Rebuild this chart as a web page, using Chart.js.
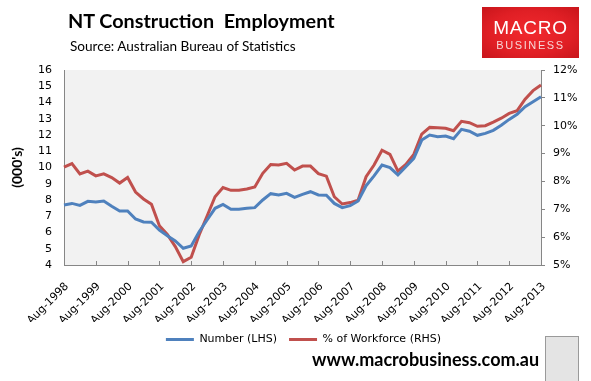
<!DOCTYPE html>
<html>
<head>
<meta charset="utf-8">
<script src="https://cdn.jsdelivr.net/npm/chart.js@4.4.1/dist/chart.umd.min.js"></script>
<style>
  html, body { margin: 0; padding: 0; background: #fff; }
  #cadre { position: relative; width: 591px; height: 381px; overflow: hidden; }
  #graphique { position: absolute; left: 0; top: 0; }
  .texte { position: absolute; white-space: pre; color: #000; }
  #titre { left: 68px; top: 10.6px; font: bold 19.8px Lato; line-height: 19.8px; }
  #source { left: 70px; top: 39px; font: 13.6px Lato; line-height: 14px; }
  #site { left: 312px; top: 350px; font: bold 18px Lato; line-height: 18px; }
  #logo { position: absolute; left: 482px; top: 7px; width: 97px; height: 51px;
    background: radial-gradient(ellipse at center, #f2292e 0%, #e01f25 60%, #c8151b 100%); }
  #logo .l1 { position: absolute; left: 0; width: 97px; top: 11px; text-align: center;
    font: 19px "Liberation Sans"; line-height: 19px; color: #fff; letter-spacing: 0.8px; }
  #logo .l2 { position: absolute; left: 0; width: 97px; top: 32px; text-align: center;
    font: 11px "Liberation Sans"; line-height: 12px; color: #f7d6d6; letter-spacing: 1.6px; }
  #renard { position: absolute; left: 545px; top: 336px; width: 32px; height: 44px;
    border: 1px solid #9a9a9a; background: #e4e4e4; }
</style>
</head>
<body>
<div id="cadre">
  <canvas id="graphique" width="591" height="381"></canvas>
  <div id="titre" class="texte">NT Construction  Employment</div>
  <div id="source" class="texte">Source: Australian Bureau of Statistics</div>
  <div id="logo"><div class="l1">MACRO</div><div class="l2">BUSINESS</div></div>
  <div id="site" class="texte">www.macrobusiness.com.au</div>
  <div id="renard"></div>
</div>
<script>
// Trimestres (Aug, Nov, Feb, May) de Aug-1998 à Aug-2013
const etiquettes = [
  'Aug-1998', 'Nov-1998', 'Feb-1999', 'May-1999', 'Aug-1999', 'Nov-1999', 'Feb-2000', 'May-2000',
  'Aug-2000', 'Nov-2000', 'Feb-2001', 'May-2001', 'Aug-2001', 'Nov-2001', 'Feb-2002', 'May-2002',
  'Aug-2002', 'Nov-2002', 'Feb-2003', 'May-2003', 'Aug-2003', 'Nov-2003', 'Feb-2004', 'May-2004',
  'Aug-2004', 'Nov-2004', 'Feb-2005', 'May-2005', 'Aug-2005', 'Nov-2005', 'Feb-2006', 'May-2006',
  'Aug-2006', 'Nov-2006', 'Feb-2007', 'May-2007', 'Aug-2007', 'Nov-2007', 'Feb-2008', 'May-2008',
  'Aug-2008', 'Nov-2008', 'Feb-2009', 'May-2009', 'Aug-2009', 'Nov-2009', 'Feb-2010', 'May-2010',
  'Aug-2010', 'Nov-2010', 'Feb-2011', 'May-2011', 'Aug-2011', 'Nov-2011', 'Feb-2012', 'May-2012',
  'Aug-2012', 'Nov-2012', 'Feb-2013', 'May-2013', 'Aug-2013'
];

// Nombre d'emplois (milliers) - axe gauche
const nombre = [
  7.69, 7.79, 7.67, 7.92, 7.88, 7.94, 7.61, 7.32, 7.32, 6.83, 6.65, 6.63,
  6.15, 5.80, 5.48, 5.03, 5.17, 6.05, 6.77, 7.49, 7.73, 7.43, 7.43, 7.49,
  7.53, 8.00, 8.39, 8.31, 8.41, 8.16, 8.35, 8.51, 8.31, 8.29, 7.79, 7.53,
  7.65, 7.94, 8.88, 9.48, 10.15, 9.99, 9.54, 10.05, 10.56, 11.69, 12.00, 11.90,
  11.94, 11.77, 12.35, 12.23, 11.98, 12.10, 12.29, 12.60, 12.96, 13.27, 13.74, 14.05,
  14.36
];

// Part de la main-d'oeuvre (%) - axe droit
const pourcentage = [
  8.51, 8.64, 8.27, 8.37, 8.20, 8.27, 8.14, 7.94, 8.14, 7.62, 7.37, 7.18,
  6.41, 6.10, 5.66, 5.12, 5.28, 6.08, 6.76, 7.45, 7.78, 7.68, 7.68, 7.73,
  7.80, 8.29, 8.61, 8.59, 8.65, 8.41, 8.55, 8.55, 8.28, 8.19, 7.45, 7.19,
  7.24, 7.33, 8.17, 8.59, 9.12, 8.97, 8.37, 8.61, 8.97, 9.70, 9.94, 9.93,
  9.91, 9.82, 10.16, 10.11, 9.98, 10.00, 10.13, 10.27, 10.44, 10.54, 10.95, 11.26,
  11.46
];

const bornesGauche = { min: 4, max: 16, pas: 1 };
const bornesDroite = { min: 5, max: 12, pas: 1 };

const grisAxe = '#868686';
const policeTicks = { family: 'DejaVu Sans', size: 11 };

// Fond gris de la zone de tracé
const fondGraphique = {
  id: 'fondGraphique',
  beforeDraw(chart) {
    const { ctx, chartArea: a } = chart;
    ctx.save();
    ctx.fillStyle = '#f2f2f2';
    ctx.fillRect(a.left, a.top, a.right - a.left, a.bottom - a.top);
    ctx.restore();
  }
};

// Petites graduations annuelles tournées vers l'intérieur
const graduationsX = {
  id: 'graduationsX',
  afterDatasetsDraw(chart) {
    const xs = chart.scales.x;
    const ctx = chart.ctx;
    ctx.save();
    ctx.strokeStyle = grisAxe;
    ctx.lineWidth = 1;
    etiquettes.forEach((e, i) => {
      if (i % 4 !== 0) return;
      const x = Math.round(xs.getPixelForValue(i)) + 0.5;
      ctx.beginPath();
      ctx.moveTo(x, xs.top);
      ctx.lineTo(x, xs.top - 4);
      ctx.stroke();
    });
    ctx.restore();
  }
};

new Chart(document.getElementById('graphique'), {
  type: 'line',
  data: {
    labels: etiquettes,
    datasets: [{
      label: 'Number (LHS)',
      data: nombre,
      yAxisID: 'y',
      borderColor: '#4f81bd',
      backgroundColor: '#4f81bd',
      borderWidth: 3,
      pointRadius: 0,
      tension: 0
    }, {
      label: '% of Workforce (RHS)',
      data: pourcentage,
      yAxisID: 'y1',
      borderColor: '#c0504d',
      backgroundColor: '#c0504d',
      borderWidth: 3,
      pointRadius: 0,
      tension: 0
    }]
  },
  options: {
    responsive: false,
    animation: false,
    layout: { padding: { top: 70, left: 16, right: 0, bottom: 26 } },
    plugins: {
      title: { display: false },
      tooltip: { enabled: false },
      legend: {
        position: 'bottom',
        labels: {
          usePointStyle: true,
          pointStyle: 'line',
          pointStyleWidth: 28,
          padding: 12,
          color: '#000',
          font: { family: 'DejaVu Sans', size: 11 }
        }
      }
    },
    scales: {
      x: {
        grid: { display: true, drawOnChartArea: false, drawTicks: false },
        border: { display: true, color: grisAxe, width: 1 },
        ticks: {
          autoSkip: false,
          maxRotation: 45,
          minRotation: 45,
          padding: 15,
          labelOffset: 3,
          color: '#000',
          font: policeTicks,
          callback: function (val, idx) {
            return idx % 4 === 0 ? this.getLabelForValue(val) : '';
          }
        },
        afterFit: (s) => { s.height = 57; }
      },
      y: {
        position: 'left',
        min: bornesGauche.min,
        max: bornesGauche.max,
        grid: { display: true, drawOnChartArea: false, drawTicks: false },
        border: { display: true, color: grisAxe, width: 1 },
        ticks: { stepSize: bornesGauche.pas, padding: 12, color: '#000', font: policeTicks },
        title: {
          display: true,
          text: "(000's)",
          color: '#000',
          font: { family: 'Lato', weight: 'bold', size: 14 },
          padding: { top: -7, bottom: 0 }
        },
        afterFit: (s) => { s.width = 48; }
      },
      y1: {
        position: 'right',
        min: bornesDroite.min,
        max: bornesDroite.max,
        grid: { display: true, drawOnChartArea: false, drawTicks: true, tickLength: 4, color: grisAxe },
        border: { display: true, color: grisAxe, width: 1 },
        ticks: {
          stepSize: bornesDroite.pas,
          padding: 8,
          color: '#000',
          font: policeTicks,
          callback: (v) => v + '%'
        },
        afterFit: (s) => { s.width = 50; }
      }
    }
  },
  plugins: [fondGraphique, graduationsX]
});
</script>
</body>
</html>
